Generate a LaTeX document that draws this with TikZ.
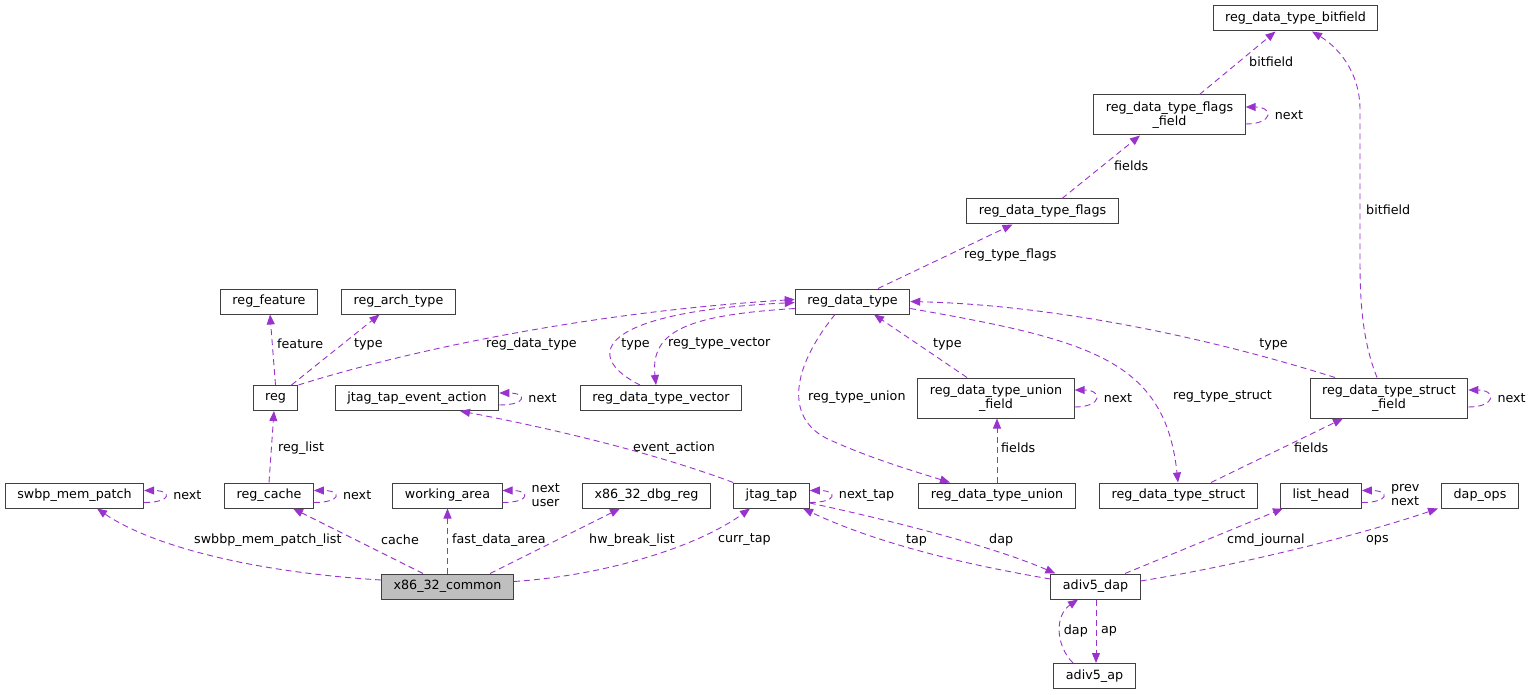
\documentclass[tikz,border=0pt]{standalone}
\usepackage{fontspec}
\setmainfont{DejaVu Sans}
\usetikzlibrary{arrows.meta}
\definecolor{edgepurple}{RGB}{154,50,205}
\definecolor{boxline}{RGB}{64,64,64}
\definecolor{boxfill}{RGB}{191,191,191}

\begin{document}
\begin{tikzpicture}[x=1pt, y=-1pt,
    font=\fontsize{12.7}{14}\selectfont,
    cls/.style={draw=boxline, line width=1pt, fill=white, align=center,
      inner xsep=12pt, inner ysep=4pt, minimum height=25pt},
    tall/.style={minimum height=40pt},
    rel/.style={draw=edgepurple, line width=0.9pt, dash pattern=on 6pt off 4pt,
      -{Triangle[length=10pt,width=8pt,fill=edgepurple]}},
    lbl/.style={inner sep=1pt, align=left}]
  \useasboundingbox (0,0) rectangle (1531,695);

  % classes
  \foreach \nm/\cx/\cy/\txt in {
      bitf/1295.5/18.5/{reg\_data\_type\_bitfield},
      flags/1042.5/211.5/{reg\_data\_type\_flags},
      rdt/852.5/301.5/{reg\_data\_type},
      feat/269/301.5/{reg\_feature},
      arch/398.5/301.5/{reg\_arch\_type},
      reg/275.5/398/{reg},
      tea/417/398/{jtag\_tap\_event\_action},
      vec/661/398/{reg\_data\_type\_vector},
      swbp/74.5/495.5/{swbp\_mem\_patch},
      rcache/269/495.5/{reg\_cache},
      warea/447.5/495.5/{working\_area},
      dbg/646.5/495.5/{x86\_32\_dbg\_reg},
      jtap/771.5/495.5/{jtag\_tap},
      union/997/495.5/{reg\_data\_type\_union},
      struct/1178.5/495.5/{reg\_data\_type\_struct},
      lhead/1321/495.5/{list\_head},
      dops/1480/495.5/{dap\_ops},
      dap/1095.5/586.5/{adiv5\_dap},
      ap/1094.5/676/{adiv5\_ap}}
    \node[cls] (\nm) at (\cx,\cy) {\txt};
  \node[cls, tall] (flagsf) at (1169.5,115) {reg\_data\_type\_flags\\\_field};
  \node[cls, tall] (unionf) at (996,398) {reg\_data\_type\_union\\\_field};
  \node[cls, tall] (structf) at (1389,398) {reg\_data\_type\_struct\\\_field};
  \node[cls, fill=boxfill] (x86) at (447.5,586.5) {x86\_32\_common};

  % relations
  \draw[rel] ([xshift=30pt]flagsf.north) -- ([xshift=-20pt]bitf.south);
  \draw[rel] ([xshift=-12pt]structf.north) .. controls (1362,340) and (1360,300) .. (1360,260)
    -- (1360,110) .. controls (1360,70) and (1336,46) .. ([xshift=16.5pt]bitf.south);
  \draw[rel] ([xshift=19.5pt]flags.north) -- ([xshift=-29.5pt]flagsf.south);
  \draw[rel] ([xshift=25.5pt]rdt.north) -- ([xshift=-30pt]flags.south);
  \draw[rel] (reg.north east) .. controls (410,350) and (590,312) .. ([yshift=2pt]rdt.west);
  \draw[rel] ([xshift=-21pt]vec.north) .. controls (580,355) and (600,312) .. ([yshift=-1pt]rdt.west);
  \draw[rel] ([yshift=-7pt]rdt.west) .. controls (690,315) and (650,330) .. ([xshift=-5pt]vec.north);
  \draw[rel] ([xshift=-29pt]unionf.north) -- ([xshift=21.5pt]rdt.south);
  \draw[rel] ([xshift=-54pt]structf.north) .. controls (1200,335) and (1050,305) .. (rdt.east);
  \draw[rel] ([yshift=-7pt]rdt.east) .. controls (1090,340) and (1165,360) .. ([xshift=-0.5pt]struct.north);
  \draw[rel] ([xshift=-17.5pt]rdt.south) .. controls (790,370) and (785,420) .. (830,440)
    .. controls (870,458) and (910,470) .. ([xshift=-47pt]union.north);
  \draw[rel] (union.north) -- (union.north |- unionf.south);
  \draw[rel] ([xshift=32.5pt]struct.north) -- ([xshift=-46pt]structf.south);
  \draw[rel] (reg.north) -- ([xshift=1pt]feat.south);
  \draw[rel] ([xshift=16pt]reg.north) -- ([xshift=-19pt]arch.south);
  \draw[rel] (rcache.north) -- ([xshift=-1.5pt]reg.south);
  \draw[rel] (jtap.north west) .. controls (660,455) and (560,430) .. ([xshift=43pt]tea.south);
  \draw[rel] ([yshift=6.5pt]x86.west) .. controls (250,572) and (150,545) .. ([xshift=22.5pt]swbp.south);
  \draw[rel] ([xshift=-24.5pt]x86.north) -- ([xshift=24pt]rcache.south);
  \draw[rel] (x86.north) -- (warea.south);
  \draw[rel] ([xshift=42.5pt]x86.north) -- ([xshift=-26.5pt]dbg.south);
  \draw[rel] ([yshift=5pt]x86.east) .. controls (610,575) and (700,545) .. ([xshift=-21.5pt]jtap.south);
  \draw[rel] ([yshift=7.5pt]dap.west) .. controls (950,562) and (870,540) .. ([xshift=31.5pt]jtap.south);
  \draw[rel] ([yshift=-7.5pt]jtap.east) .. controls (880,518) and (990,545) .. ([xshift=5pt]dap.north west);
  \draw[rel] ([xshift=29.5pt]dap.north) -- ([xshift=-38pt]lhead.south);
  \draw[rel] ([yshift=5.5pt]dap.east) .. controls (1240,565) and (1360,535) .. ([xshift=-42pt]dops.south);
  \draw[rel] ([xshift=0.5pt]dap.south) -- ([xshift=0.5pt]dap.south |- ap.north);
  \draw[rel] ([xshift=-21.5pt]ap.north) .. controls (1055,645) and (1055,615) .. ([xshift=-17.5pt]dap.south);

  % self references
  \foreach \nm in {tea, swbp, rcache, warea, jtap, lhead}
    \draw[rel] ([yshift=-7pt]\nm.east) .. controls +(28,0) and +(28,0) .. ([yshift=5pt]\nm.east);
  \foreach \nm in {flagsf, unionf, structf}
    \draw[rel] ([yshift=-9pt]\nm.east) .. controls +(28,0) and +(28,0) .. ([yshift=8pt]\nm.east);
  \foreach \nm/\txt in {tea/next, swbp/next, rcache/next, warea/{next\\user},
      jtap/{next\_tap}, lhead/{prev\\next}, flagsf/next, unionf/next, structf/next}
    \node[lbl, anchor=west] (l-\nm) at ([xshift=28pt]\nm.east) {\txt};

  % member names
  \foreach[count=\i] \lx/\ly/\la/\lt in {
      1248/62/west/bitfield, 1365/210/west/bitfield, 1113/166/west/fields,
      963/255/west/{reg\_type\_flags}, 485/344/west/{reg\_data\_type},
      651/344/east/type, 667/344/west/{reg\_type\_vector}, 932/344/west/type,
      1273.5/344/center/type, 1172/397/west/{reg\_type\_struct},
      807/397/west/{reg\_type\_union}, 1000/448/west/fields, 1293/448/west/fields,
      276/344/west/feature, 353/344/west/type, 277/448/west/{reg\_list},
      632/448/west/{event\_action}, 193/540/west/{swbbp\_mem\_patch\_list},
      380/540/west/cache, 451/540/west/{fast\_data\_area},
      588/540/west/{hw\_break\_list}, 717/540/west/{curr\_tap}, 905/540/west/tap,
      988/540/west/dap, 1226/540/west/{cmd\_journal}, 1365/540/west/ops,
      1100/631/west/ap, 1089/631/east/dap}
    \node[lbl, anchor=\la] (l-\i) at (\lx,\ly) {\lt};
\end{tikzpicture}
\end{document}
